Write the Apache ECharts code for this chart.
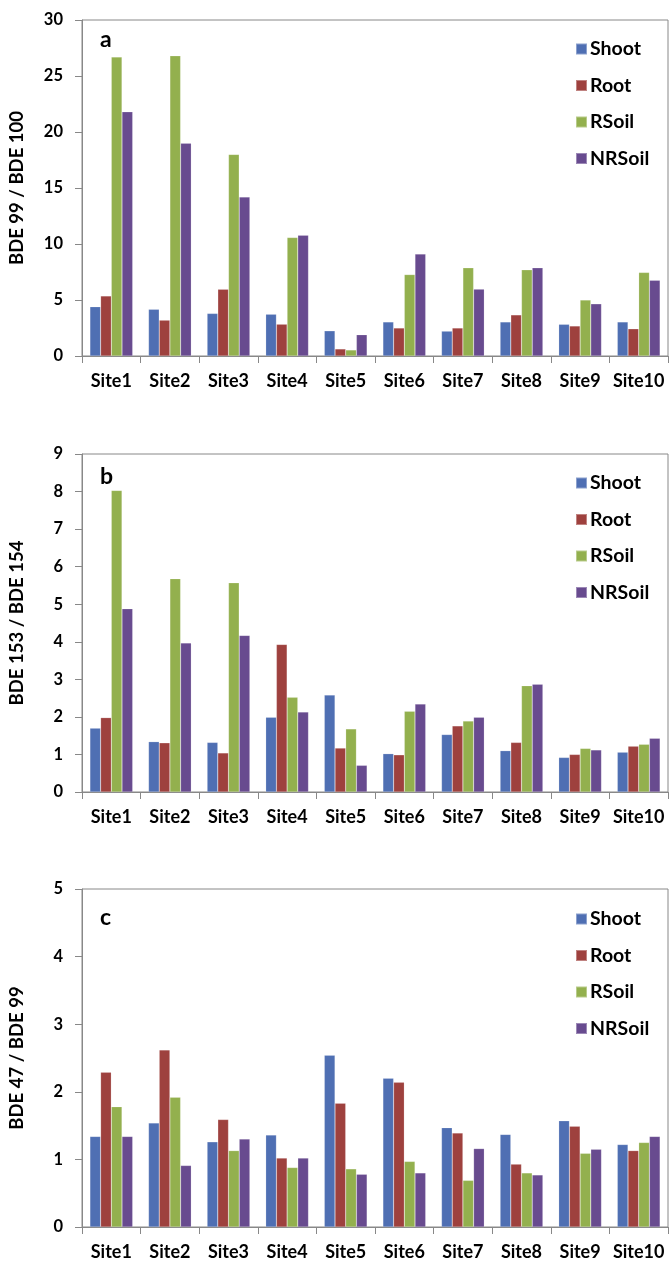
<!DOCTYPE html>
<html>
<head>
<meta charset="utf-8">
<script src="https://cdn.jsdelivr.net/npm/echarts@6/dist/echarts.min.js"></script>
<style>
html,body{margin:0;padding:0;background:#fff;}
#chart{width:670px;height:1262px;}
</style>
</head>
<body>
<div id="chart"></div>
<script>
// ---- data ----
const sites = ['Site1','Site2','Site3','Site4','Site5','Site6','Site7','Site8','Site9','Site10'];
const seriesNames = ['Shoot','Root','RSoil','NRSoil'];

// panel a : BDE 99 / BDE 100
const aShoot  = [4.40, 4.17, 3.80, 3.73, 2.25, 3.04, 2.22, 3.04, 2.83, 3.04];
const aRoot   = [5.36, 3.20, 5.96, 2.84, 0.63, 2.50, 2.50, 3.67, 2.68, 2.43];
const aRSoil  = [26.7, 26.8, 18.0, 10.58, 0.54, 7.27, 7.87, 7.69, 5.00, 7.46];
const aNRSoil = [21.8, 19.0, 14.2, 10.78, 1.90, 9.10, 5.97, 7.87, 4.66, 6.76];

// panel b : BDE 153 / BDE 154
const bShoot  = [1.70, 1.34, 1.32, 1.99, 2.58, 1.02, 1.53, 1.10, 0.92, 1.06];
const bRoot   = [1.98, 1.31, 1.04, 3.93, 1.17, 0.99, 1.76, 1.32, 1.00, 1.22];
const bRSoil  = [8.03, 5.68, 5.57, 2.52, 1.68, 2.15, 1.89, 2.83, 1.16, 1.27];
const bNRSoil = [4.88, 3.97, 4.17, 2.13, 0.71, 2.34, 1.99, 2.87, 1.12, 1.43];

// panel c : BDE 47 / BDE 99
const cShoot  = [1.34, 1.54, 1.26, 1.36, 2.54, 2.20, 1.47, 1.37, 1.57, 1.22];
const cRoot   = [2.29, 2.62, 1.59, 1.02, 1.83, 2.14, 1.39, 0.93, 1.49, 1.13];
const cRSoil  = [1.78, 1.92, 1.13, 0.88, 0.86, 0.97, 0.69, 0.80, 1.09, 1.25];
const cNRSoil = [1.34, 0.91, 1.30, 1.02, 0.78, 0.80, 1.16, 0.77, 1.15, 1.34];

const panelLetters = ['a','b','c'];
const yNames = ['BDE 99 / BDE 100','BDE 153 / BDE 154','BDE 47 / BDE 99'];
const yMax = [30, 9, 5];
const yInterval = [5, 1, 1];

// ---- styles ----
const colors = ['#4F6FB3','#9E413E','#93B04E','#684B8F'];
const FONT = 'Lato, "Open Sans", sans-serif';
const grids = [
  {left:82, right:2, top:20, height:336},
  {left:82, right:2, top:454, height:338},
  {left:82, right:2, top:889, height:338}
];
const legendTops = [39, 473, 909];
const letterTops = [28, 465, 906];

const panelData = [
  [aShoot,aRoot,aRSoil,aNRSoil],
  [bShoot,bRoot,bRSoil,bNRSoil],
  [cShoot,cRoot,cRSoil,cNRSoil]
];

const option = {
  animation:false,
  backgroundColor:'#fff',
  color:colors,
  textStyle:{fontFamily:FONT},
  title: panelLetters.map((t,i)=>({
    text:t, left:100, top:letterTops[i], padding:0,
    textStyle:{fontFamily:FONT, fontWeight:'bold', fontSize:23, color:'#000'}
  })),
  legend: [0,1,2].map(i=>({
    data:seriesNames, orient:'vertical', left:575, top:legendTops[i], padding:0,
    itemWidth:11, itemHeight:11, itemGap:16.5, icon:'rect',
    textStyle:{fontFamily:FONT, fontWeight:'bold', fontSize:19.5, color:'#000', padding:[0,0,0,-2]}
  })),
  grid: grids.map(g=>Object.assign({show:true, borderColor:'#888888', borderWidth:1, containLabel:false}, g)),
  xAxis: [0,1,2].map(i=>({
    type:'category', gridIndex:i, data:sites,
    axisLine:{lineStyle:{color:'#888888', width:1}},
    axisTick:{show:true, length:7, lineStyle:{color:'#888888'}},
    axisLabel:{color:'#000', fontWeight:'bold', fontSize:18, fontFamily:FONT, margin:16, interval:0}
  })),
  yAxis: [0,1,2].map(i=>({
    type:'value', gridIndex:i, min:0, max:yMax[i], interval:yInterval[i],
    name:yNames[i], nameLocation:'middle', nameGap:55, nameRotate:90,
    nameTextStyle:{color:'#000', fontWeight:'bold', fontSize:18.5, fontFamily:FONT},
    axisLine:{show:true, lineStyle:{color:'#888888', width:1}},
    axisTick:{show:true, length:7, lineStyle:{color:'#888888'}},
    splitLine:{show:false},
    axisLabel:{color:'#000', fontWeight:'bold', fontSize:16.5, fontFamily:FONT, margin:19}
  })),
  series: []
};

for (let p=0; p<3; p++) {
  for (let s=0; s<4; s++) {
    option.series.push({
      name:seriesNames[s], type:'bar', xAxisIndex:p, yAxisIndex:p,
      data:panelData[p][s],
      barGap:'0%', barCategoryGap:'27%',
      itemStyle:{color:colors[s], borderColor:'rgba(255,255,255,0.35)', borderWidth:0.5}
    });
  }
}

const chart = echarts.init(document.getElementById('chart'), null, {renderer:'canvas'});
chart.setOption(option);
</script>
</body>
</html>
